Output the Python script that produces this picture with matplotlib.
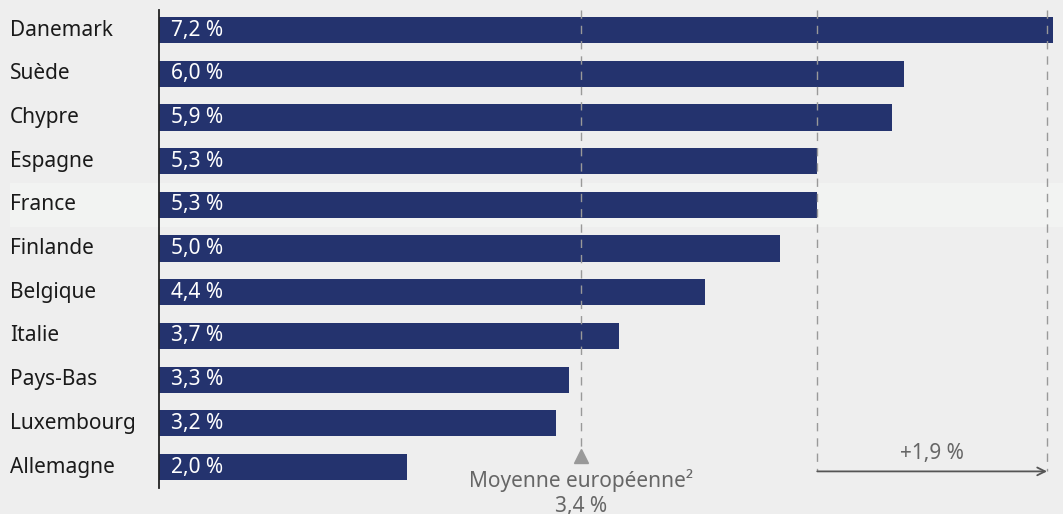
import matplotlib
matplotlib.use("Agg")
import matplotlib.pyplot as plt
from matplotlib.patches import Rectangle
import matplotlib.transforms as mtransforms

countries = ["Danemark", "Suède", "Chypre", "Espagne", "France", "Finlande",
             "Belgique", "Italie", "Pays-Bas", "Luxembourg", "Allemagne"]
values = [7.2, 6.0, 5.9, 5.3, 5.3, 5.0, 4.4, 3.7, 3.3, 3.2, 2.0]
labels = ["7,2 %", "6,0 %", "5,9 %", "5,3 %", "5,3 %", "5,0 %", "4,4 %",
          "3,7 %", "3,3 %", "3,2 %", "2,0 %"]
eu_avg = 3.4
eu_label = "Moyenne européenne²"
eu_value_label = "3,4 %"
gap_label = "+1,9 %"
highlight = "France"

plt.rcParams['font.family'] = ['Noto Sans', 'DejaVu Sans']
BG = "#eeeeee"
BAR = "#24336e"
GRAY = "#999999"
TXT = "#666666"
FS = 15

W, H = 1063, 514
fig = plt.figure(figsize=(W / 100, H / 100), dpi=100, facecolor=BG)
ax = fig.add_axes([159 / W, (H - 488) / H, (W - 159) / W, (488 - 10) / H])
ax.patch.set_visible(False)
ax.set_zorder(2)

ypos = list(range(len(countries)))
ax.set_ylim(10.48, -0.458)
ax.set_xlim(0, (W - 159) / 124.2)

# highlight band
hi = countries.index(highlight)
trans = mtransforms.blended_transform_factory(fig.transFigure, ax.transData)
fig.patches.append(Rectangle((10 / W, hi - 0.5), 1 - 10 / W, 1.0, transform=trans,
                             facecolor="#f2f3f2", edgecolor="none", zorder=0))

ax.barh(ypos, values, height=0.6, color=BAR, zorder=2)
for y, lab in zip(ypos, labels):
    ax.text(0.1, y, lab, color="white", va="center", ha="left", fontsize=FS, zorder=4)

# country labels
for y, c in zip(ypos, countries):
    ax.annotate(c, xy=(0, y), xycoords=("axes fraction", "data"), xytext=(-149, 0),
                textcoords="offset pixels", ha="left", va="center", fontsize=FS,
                color="#1a1a1a")

ax.set_yticks([])
ax.set_xticks([])
for s in ["top", "right", "bottom"]:
    ax.spines[s].set_visible(False)
ax.spines["left"].set_color("#222222")
ax.spines["left"].set_linewidth(1.3)

# EU average line
ax.plot([eu_avg, eu_avg], [-0.458, 9.55], color=GRAY, lw=1, ls=(0, (6, 5)), zorder=3)
ax.plot([eu_avg], [9.75], marker="^", color="#999999", markersize=10, ls="none",
        clip_on=False, zorder=3)
ax.text(eu_avg, 10.3, eu_label, ha="center", va="center", color=TXT, fontsize=FS,
        clip_on=False)
ax.text(eu_avg, 10.9, eu_value_label, ha="center", va="center", color=TXT, fontsize=FS,
        clip_on=False)

# France -> Danemark gap
x0 = values[hi]
x1 = values[0] - 0.05
for xv in (x0, x1):
    ax.plot([xv, xv], [-0.458, 10.1], color=GRAY, lw=1, ls=(0, (6, 5)), zorder=3)
ax.annotate("", xy=(x1, 10.1), xytext=(x0, 10.1),
            arrowprops=dict(arrowstyle="->", color="#555555", lw=1.3,
                            shrinkA=0, shrinkB=0, mutation_scale=14))
ax.text((x0 + x1) / 2, 9.7, gap_label, ha="center", va="center", color=TXT, fontsize=FS)

fig.savefig("out.png", dpi=100, facecolor=BG)
